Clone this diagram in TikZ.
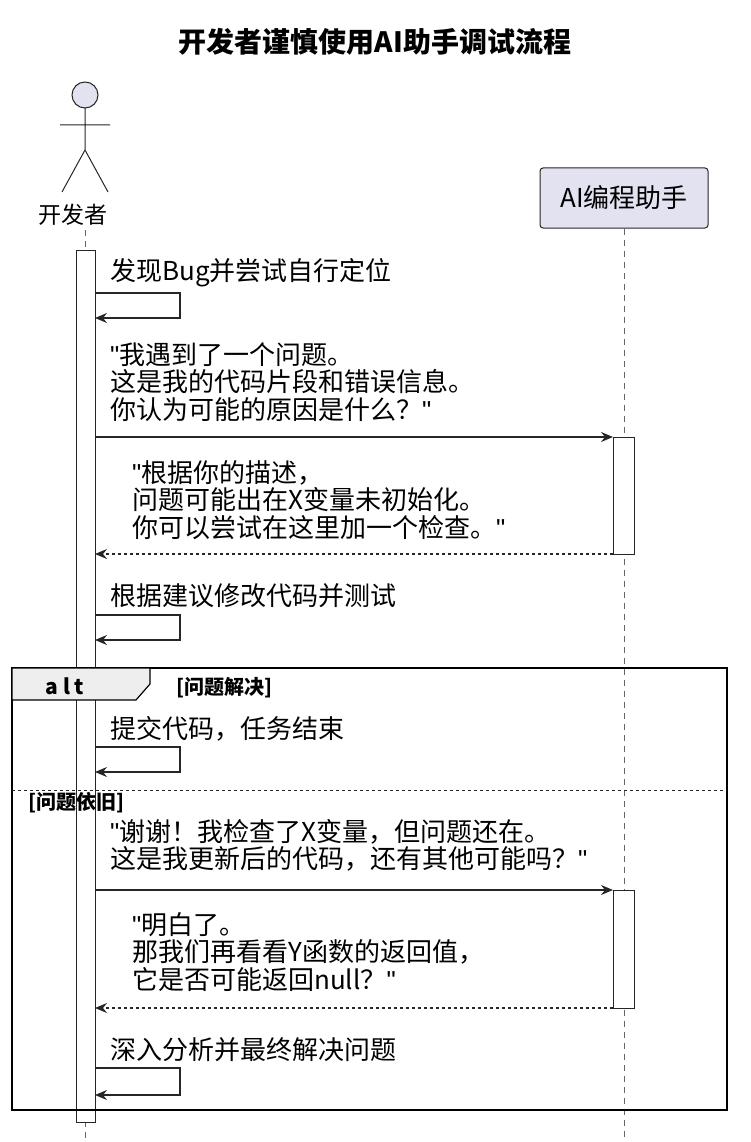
\documentclass[tikz,border=0pt]{standalone}
\usepackage{fontspec}
\setmainfont{Noto Sans CJK SC}
\newfontfamily\lat{Liberation Sans}
\newcommand{\qq}{{\lat"}}
\usetikzlibrary{arrows.meta}
\begin{document}
\begin{tikzpicture}[x=1pt,y=-1pt,
  txt/.style={anchor=west,inner sep=0,font=\fontsize{26}{27.5}\selectfont,align=left},
  msg/.style={draw=black!85,line width=1.3pt,-{Stealth[length=12pt,width=10pt,inset=4pt]}},
  rep/.style={msg,dash pattern=on 3pt off 3pt},
  life/.style={draw=black!60,dash pattern=on 6pt off 5pt,line width=0.8pt},
  act/.style={draw=black!85,fill=white,line width=1pt}]
\useasboundingbox (0,0) rectangle (750,1142);
\node[font=\bfseries\fontsize{28}{30}\selectfont] (title) at (375,42) {开发者谨慎使用AI助手调试流程};
% actor
\draw[draw=black!85,fill={rgb,255:red,226;green,226;blue,240},line width=1pt] (85,95) circle (13);
\draw[black!85,line width=1pt] (85,108) -- (85,150) (60,125) -- (110,125) (62,192) -- (85,150) -- (108,192);
\node[font=\fontsize{23}{26}\selectfont] (dev) at (73,215) {开发者};
\node[draw=black!85,fill={rgb,255:red,226;green,226;blue,240},rounded corners=3pt,line width=1pt,
  minimum width=168,minimum height=60,font=\fontsize{26}{28}\selectfont] (ai) at (624,198) {AI编程助手};
\draw[life] (85,230) -- (85,1142);
\draw[life] (ai.south) -- (624,1142);
\draw[act] (76,250) rectangle (95,1122);
\draw[act] (613,437) rectangle (634,554);
\draw[act] (613,890) rectangle (634,1008);
% self message 1
\node[txt] (t1) at (110,273) {发现Bug并尝试自行定位};
\coordinate (a1) at (95,293); \coordinate (b1) at (95,318);
\draw[msg] (a1) -- (180,293) -- (180,318) -- (b1);
% msg 2
\node[txt,anchor=north west] (t2) at (110,342) {\qq{}我遇到了一个问题。\\这是我的代码片段和错误信息。\\你认为可能的原因是什么？\qq{}};
\coordinate (a2) at (95,437); \coordinate (b2) at (613,437);
\draw[msg] (a2) -- (b2);
\node[txt,anchor=north west] (t3) at (132,460) {\qq{}根据你的描述，\\问题可能出在X变量未初始化。\\你可以尝试在这里加一个检查。\qq{}};
\coordinate (a3) at (613,554); \coordinate (b3) at (95,554);
\draw[rep] (a3) -- (b3);
\node[txt] (t4) at (110,596) {根据建议修改代码并测试};
\coordinate (a4) at (95,615); \coordinate (b4) at (95,640);
\draw[msg] (a4) -- (180,615) -- (180,640) -- (b4);
% alt
\draw[black,line width=2pt] (12,668) rectangle (727,1110);
\draw[black,line width=1.2pt,fill={rgb,255:red,238;green,238;blue,238}] (12,668) -- (150,668) -- (150,684) -- (136,700) -- (12,700) -- cycle;
\node[font=\bfseries\fontsize{21}{22}\selectfont] (alt) at (65,686) {a l t};
\node[txt,font=\bfseries\fontsize{20}{22}\selectfont] (g1) at (176,688) {[问题解决]};
\node[txt] (t5) at (110,729) {提交代码，任务结束};
\coordinate (a5) at (95,747); \coordinate (b5) at (95,772);
\draw[msg] (a5) -- (180,747) -- (180,772) -- (b5);
\draw[black!85,line width=1pt,dash pattern=on 3pt off 3pt] (12,790) -- (727,790);
\node[txt,font=\bfseries\fontsize{20}{22}\selectfont] (g2) at (28,803) {[问题依旧]};
\node[txt,anchor=north west] (t6) at (110,819) {\qq{}谢谢！我检查了X变量，但问题还在。\\这是我更新后的代码，还有其他可能吗？\qq{}};
\coordinate (a6) at (95,890); \coordinate (b6) at (613,890);
\draw[msg] (a6) -- (b6);
\node[txt,anchor=north west] (t7) at (132,912) {\qq{}明白了。\\那我们再看看Y函数的返回值，\\它是否可能返回null？\qq{}};
\coordinate (a7) at (613,1008); \coordinate (b7) at (95,1008);
\draw[rep] (a7) -- (b7);
\node[txt] (t8) at (110,1050) {深入分析并最终解决问题};
\coordinate (a8) at (95,1068); \coordinate (b8) at (95,1095);
\draw[msg] (a8) -- (180,1068) -- (180,1095) -- (b8);
\end{tikzpicture}
\end{document}
